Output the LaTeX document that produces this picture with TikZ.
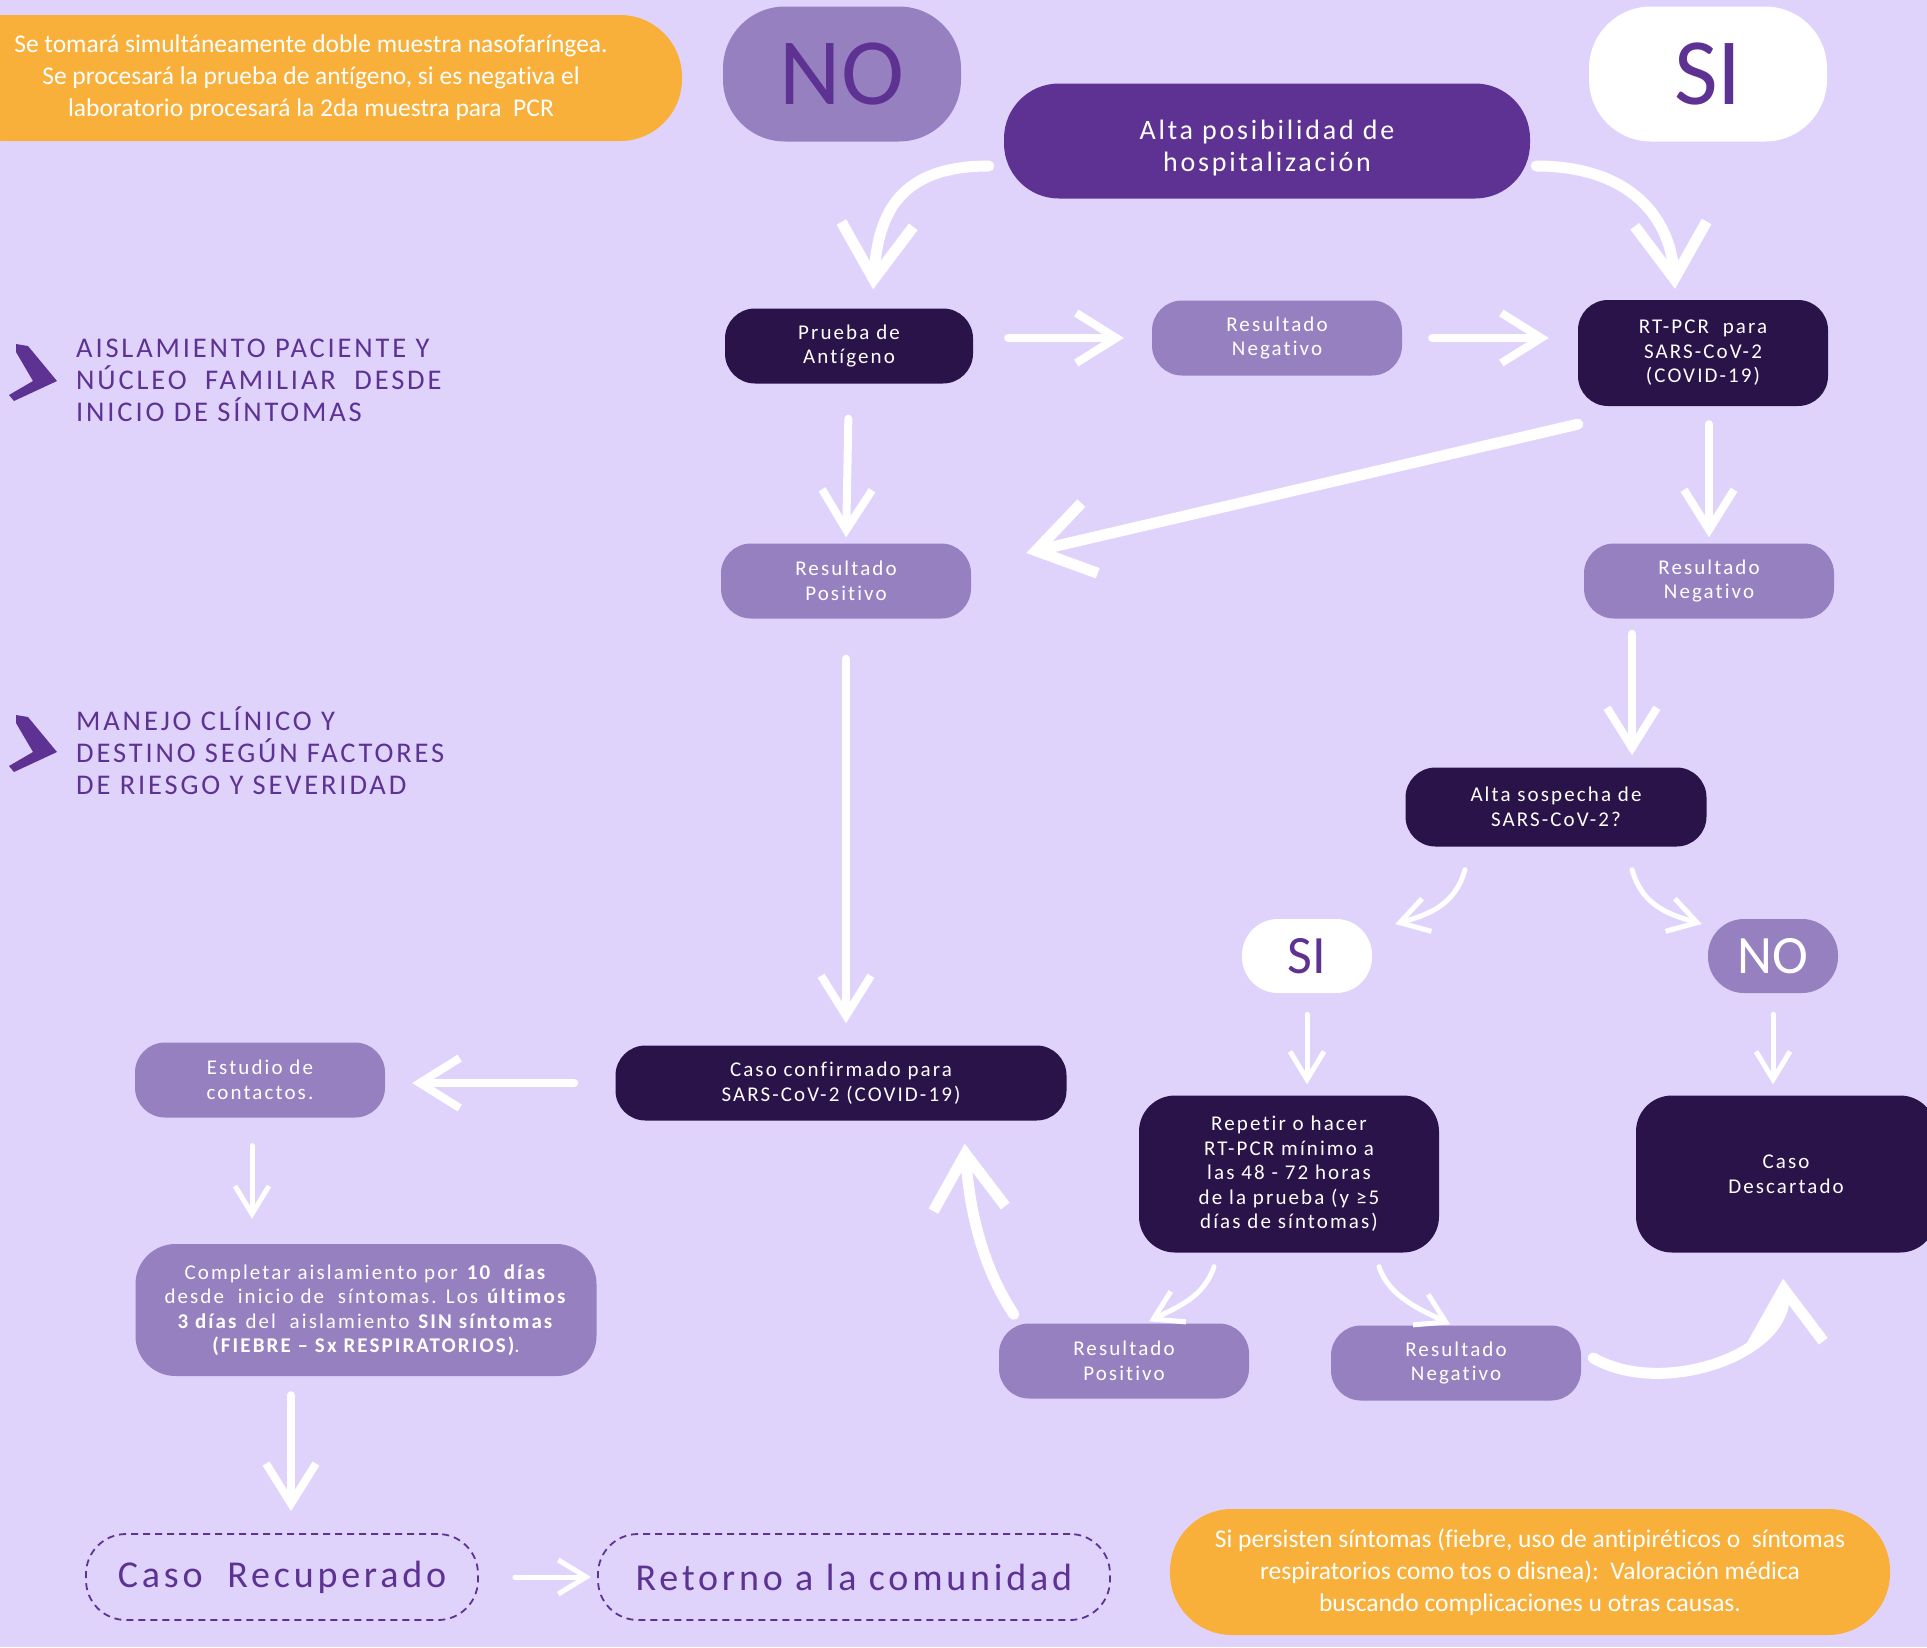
\documentclass[tikz,border=0pt]{standalone}
\usepackage{fontspec}
\setmainfont{Carlito}[Ligatures=NoCommon]
\newfontfamily\spacedfont[LetterSpace=10,Ligatures=NoCommon]{Carlito}
\usetikzlibrary{arrows.meta}

\definecolor{fondo}{RGB}{223,211,252}
\definecolor{lila}{RGB}{151,128,191}
\definecolor{oscuro}{RGB}{42,19,72}
\definecolor{morado}{RGB}{94,50,146}
\definecolor{naranja}{RGB}{249,176,59}

\tikzset{
  caja/.style={rectangle, rounded corners=30pt, align=center, inner sep=0pt, text=white,
    minimum width=250, minimum height=75, font=\spacedfont\fontsize{21}{24.5}\selectfont},
  cajaosc/.style={caja, fill=oscuro},
  cajalila/.style={caja, fill=lila},
  nota/.style={rectangle, rounded corners=62pt, fill=naranja, text=white, align=center,
    inner sep=0pt, minimum height=126, font=\fontsize{25.5}{32}\selectfont},
  burbuja/.style={rectangle, rounded corners=62pt, inner sep=0pt, minimum width=238,
    minimum height=135, font=\fontsize{95}{95}\selectfont},
  burbujach/.style={rectangle, rounded corners=36pt, inner sep=0pt, minimum width=130,
    minimum height=74, font=\fontsize{54}{54}\selectfont},
  titulo/.style={anchor=west, align=left, inner sep=0pt, text=morado,
    font=\spacedfont\fontsize{28.5}{32}\selectfont},
  final/.style={rectangle, rounded corners=40pt, draw=morado, line width=1.8pt,
    dash pattern=on 7pt off 5pt, text=morado, inner sep=0pt, minimum height=86,
    font=\spacedfont\fontsize{38}{40}\selectfont},
  flecha/.style={draw=white, line width=8pt, line cap=round,
    -{Straight Barb[length=40pt,width=50pt]}},
  flechagr/.style={flecha, line width=11pt, -{Straight Barb[length=55pt,width=72pt]}},
  flechach/.style={flecha, line width=5pt, -{Straight Barb[length=28pt,width=34pt]}}
}

\begin{document}
\begin{tikzpicture}[x=1pt, y=-1pt]
  \fill[fondo] (0,0) rectangle (1927,1647);
  \useasboundingbox (0,0) rectangle (1927,1647);

  % notas y titulos
  \node[nota, minimum width=742] (nota1) at (311,78)
    {Se tomará simultáneamente doble muestra nasofaríngea.\\
     Se procesará la prueba de antígeno, si es negativa el\\
     laboratorio procesará la 2da muestra para\ \ PCR};
  \node[nota, minimum width=720] (nota2) at (1530,1572)
    {Si persisten síntomas (fiebre, uso de antipiréticos o\ \ síntomas\\
     respiratorios como tos o disnea):\ \ Valoración médica\\
     buscando complicaciones u otras causas.};

  \node[titulo] (aisla) at (76,380)
    {AISLAMIENTO PACIENTE Y\\NÚCLEO\ \ FAMILIAR\ \ DESDE\\INICIO DE SÍNTOMAS};
  \node[titulo] (manejo) at (76,751)
    {MANEJO CLÍNICO Y\\DESTINO SEGÚN FACTORES\\DE RIESGO Y SEVERIDAD};
  \foreach \cy in {374,745}
    \fill[morado, shift={(0,\cy)}] (16,-30) -- (28,-28) -- (57,7) -- (14,27)
      -- (9,21) -- (33,7) -- (16,-22) -- cycle;

  % parte superior
  \node[burbuja, fill=lila, text=morado] (nogr) at (842,74) {NO};
  \node[burbuja, fill=white, text=morado] (sigr) at (1708,74) {SI};
  \node[caja, fill=morado, rounded corners=55pt, minimum width=526, minimum height=115,
    font=\spacedfont\fontsize{28}{32}\selectfont] (alta) at (1267,141)
    {\rule{0pt}{34pt}Alta posibilidad de\\hospitalización};

  \node[cajaosc, minimum width=248] (prueba) at (849,346) {Prueba de\\Antígeno};
  \node[cajalila] (resneg1) at (1277,338) {Resultado\\Negativo};
  \node[cajaosc, minimum height=106] (rtpcr) at (1703,353)
    {RT-PCR\ \ para\\SARS-CoV-2\\(COVID-19)};
  \node[cajalila] (respos1) at (846,581) {Resultado\\Positivo};
  \node[cajalila] (resneg2) at (1709,581) {Resultado\\Negativo};
  \node[cajaosc, minimum width=301, minimum height=79] (altasosp) at (1556,807)
    {Alta sospecha de\\SARS-CoV-2?};

  \node[burbujach, fill=white, text=morado] (sich) at (1307,956) {SI};
  \node[burbujach, fill=lila, text=white] (noch) at (1773,956) {NO};
  \node[cajaosc, rounded corners=36pt, minimum width=300, minimum height=157] (repetir)
    at (1289,1174)
    {Repetir o hacer\\RT-PCR mínimo a\\las 48 - 72 horas\\de la prueba (y ≥5\\días de síntomas)};
  \node[cajaosc, rounded corners=36pt, minimum width=300, minimum height=157] (descartado)
    at (1786,1174) {Caso\\Descartado};
  \node[cajalila] (respos3) at (1124,1361) {Resultado\\Positivo};
  \node[cajalila] (resneg3) at (1456,1363) {Resultado\\Negativo};

  % parte izquierda
  \node[cajaosc, minimum width=451] (confirmado) at (841,1083)
    {Caso confirmado para\\SARS-CoV-2 (COVID-19)};
  \node[cajalila] (estudio) at (260,1080) {Estudio de\\contactos.};
  \node[cajalila, rounded corners=40pt, minimum width=461, minimum height=132] (completar)
    at (366,1310)
    {Completar aislamiento por \textbf{10\ \ días}\\
     desde\ \ inicio de\ \ síntomas. Los \textbf{últimos}\\
     \textbf{3 días} del\ \ aislamiento \textbf{SIN síntomas}\\
     \textbf{(FIEBRE – Sx RESPIRATORIOS)}.};
  \node[final, minimum width=392] (recuperado) at (282,1577) {Caso\ \ Recuperado};
  \node[final, minimum width=512] (retorno) at (854,1577) {Retorno a la comunidad};

  % flechas
  \draw[flechagr] ([shift={(-15,25)}]alta.west) .. controls +(-90,0) and +(5,-75)
    .. ([shift={(24,-19)}]prueba.north);
  \draw[flechagr] ([shift={(6,25)}]alta.east) .. controls +(90,0) and +(-5,-75)
    .. ([shift={(-28,-11)}]rtpcr.north);
  \draw[flecha, shorten <=35pt, shorten >=28pt] ([yshift=8pt]prueba.east) -- (resneg1.west);
  \draw[flecha, shorten <=30pt, shorten >=29pt] (resneg1.east) -- (resneg1.east -| rtpcr.west);
  \draw[flecha, shorten <=35pt, shorten >=6pt] (prueba.south) -- (respos1.north);
  \draw[flechagr] ([shift={(0,18)}]rtpcr.south west) -- ([shift={(55,-28)}]respos1.east);
  \draw[flecha, shorten <=18pt, shorten >=6pt] (rtpcr.south -| resneg2.north) -- (resneg2.north);
  \draw[flecha, shorten <=40pt, shorten >=22pt] (respos1.south) -- (respos1.south |- confirmado.north);
  \draw[flecha, shorten <=15pt, shorten >=12pt] ([xshift=-77pt]resneg2.south)
    -- ([xshift=-77pt]resneg2.south |- altasosp.north);
  \draw[flechach] ([shift={(-91,23)}]altasosp.south) .. controls +(-10,35) and +(35,-10)
    .. ([shift={(23,-32)}]sich.east);
  \draw[flechach] ([shift={(76,23)}]altasosp.south) .. controls +(10,35) and +(-35,-10)
    .. ([shift={(-6,-32)}]noch.west);
  \draw[flechach, shorten <=21pt, shorten >=11pt] (sich.south) -- (sich.south |- repetir.north);
  \draw[flechach, shorten <=21pt, shorten >=11pt] (noch.south) -- (noch.south |- descartado.north);
  \draw[flechach] ([shift={(-75,14)}]repetir.south) .. controls +(-10,30) and +(30,-15)
    .. ([shift={(25,-2)}]respos3.north);
  \draw[flechach] ([shift={(90,14)}]repetir.south) .. controls +(10,30) and +(-30,-15)
    .. ([shift={(-6,-1)}]resneg3.north);
  \draw[flechagr] ([shift={(15,-9)}]respos3.north west) .. controls +(-30,-45) and +(5,70)
    .. ([shift={(-102,23)}]confirmado.south east);
  \draw[flechagr] ([shift={(12,-5)}]resneg3.east) .. controls +(70,40) and +(5,75)
    .. ([shift={(-3,26)}]descartado.south);
  \draw[flecha, shorten <=41pt, shorten >=27pt] (confirmado.west) -- (confirmado.west -| estudio.east);
  \draw[flechach, shorten <=28pt, shorten >=25pt] ([xshift=-8pt]estudio.south)
    -- ([xshift=-8pt]estudio.south |- completar.north);
  \draw[flecha, shorten <=19pt, shorten >=22pt] ([xshift=9pt]recuperado.north |- completar.south)
    -- ([xshift=9pt]recuperado.north);
  \draw[flechach, shorten <=36pt, shorten >=6pt] (recuperado.east) -- (retorno.west);
\end{tikzpicture}
\end{document}
